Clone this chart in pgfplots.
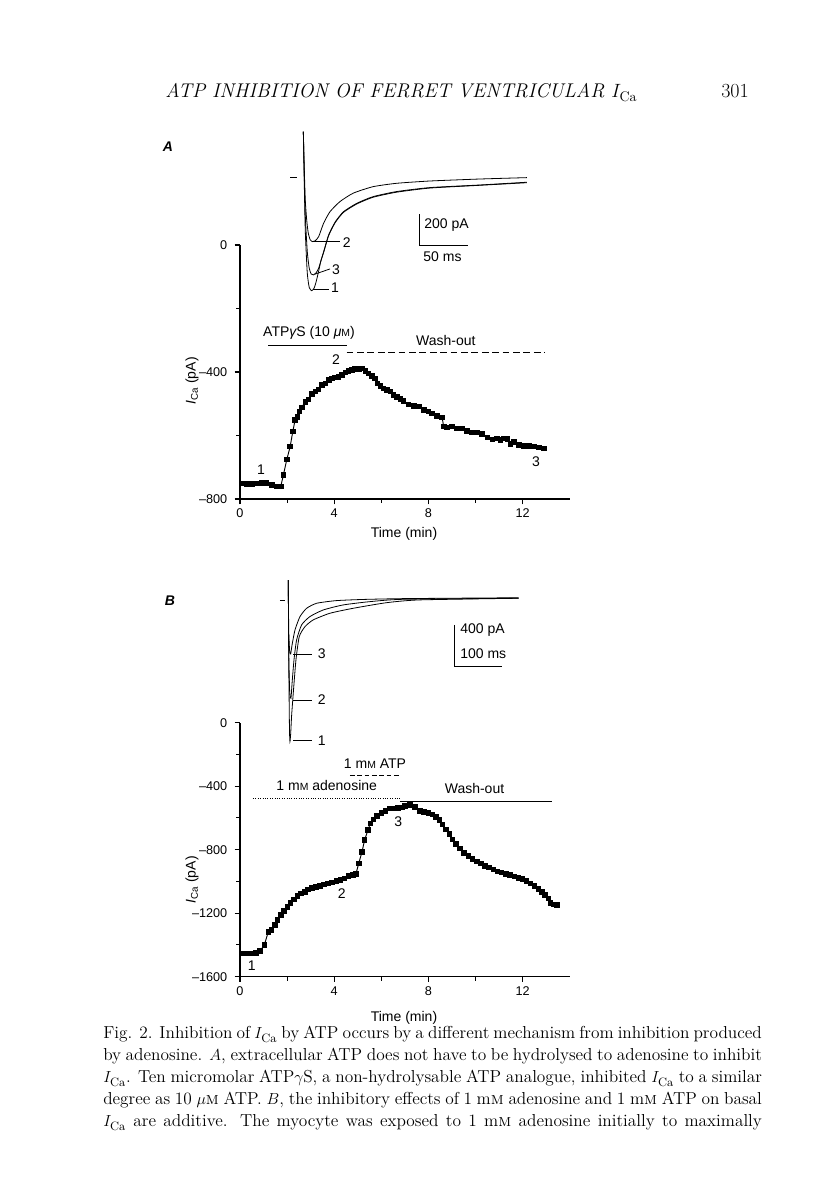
\documentclass[border=0pt]{standalone}
\usepackage{pgfplots}
\pgfplotsset{compat=1.18}
\usepackage{fontspec}
\newfontfamily\lsans{Liberation Sans}
\newcommand\lab{\lsans\fontsize{10.5}{12}\selectfont}
\newcommand\tickf{\lsans\fontsize{9.5}{11}\selectfont}
\newcommand\smM{{\fontsize{7.8}{9}\selectfont M}}
\pgfplotsset{
  mainax/.style={
    scale only axis, width=247.3pt, height=190.5pt,
    axis x line=bottom, axis y line=left,
    axis line style={-, line width=0.8pt},
    xmin=0, xmax=14,
    xtick={0,4,8,12}, xticklabels={0,4,8,12},
    minor xtick={2,6,10},
    tick align=outside,
    major tick length=4pt, minor tick length=3pt,
    tick style={black, line width=0.8pt},
    minor tick style={black, line width=0.8pt},
    ticklabel style={font=\tickf},
    yticklabel style={xshift=-2pt},
    clip=false,
  },
  dat/.style={black, line width=0.7pt, mark=square*, mark size=1.7pt, mark options={solid}},
  inset/.style={scale only axis, hide axis, clip=false, anchor=south west},
  tr/.style={black, line width=0.6pt, smooth, tension=0.35, no marks},
  ann/.style={black, line width=0.6pt, no marks},
}
\begin{document}
\begin{tikzpicture}
\begin{scope}[x=0.75pt,y=-0.75pt,shift={(0,900pt)}]
  \path[use as bounding box] (0,0) rectangle (816,1200);
\end{scope}

% ---------------- Panel A main axis
\begin{axis}[mainax, at={(180pt,525.75pt)}, anchor=south west,
  ymin=-800, ymax=0, ytick={-800,-400,0}, yticklabels={–800,–400,0},
  minor ytick={-600,-200}]
\addplot[dat] coordinates {
(0.07,-751) (0.28,-753) (0.50,-752) (0.71,-751) (0.92,-750) (1.13,-750)
(1.35,-756) (1.56,-761) (1.73,-761) (1.84,-725) (1.99,-675) (2.13,-635)
(2.24,-588) (2.34,-551) (2.44,-541) (2.52,-525) (2.62,-511) (2.77,-494)
(2.91,-486) (3.06,-470) (3.20,-462) (3.33,-455) (3.48,-441) (3.62,-436)
(3.77,-425) (3.90,-420) (4.04,-417) (4.18,-415) (4.33,-410) (4.47,-402)
(4.61,-396) (4.75,-394) (4.89,-391) (5.04,-391) (5.18,-389) (5.32,-396)
(5.46,-404) (5.60,-413) (5.74,-420) (5.84,-436) (5.96,-444) (6.10,-452)
(6.24,-457) (6.38,-462) (6.52,-473) (6.67,-478) (6.81,-485) (6.95,-492)
(7.16,-502) (7.38,-507) (7.59,-509) (7.80,-520) (8.01,-525) (8.16,-530)
(8.37,-539) (8.58,-543) (8.65,-572) (8.79,-574) (9.00,-572) (9.22,-578)
(9.43,-578) (9.64,-586) (9.86,-591) (10.07,-591) (10.28,-595) (10.50,-606)
(10.71,-612) (10.92,-609) (11.06,-614) (11.20,-609) (11.35,-611) (11.49,-627)
(11.63,-620) (11.84,-630) (12.06,-633) (12.27,-633) (12.48,-635) (12.70,-637)
(12.91,-641)};
\addplot[ann] coordinates {(1.19,-315) (4.54,-315)};
\addplot[ann, dash pattern=on 5pt off 2.8pt] coordinates {(4.53,-339) (12.95,-339)};
\end{axis}

% ---------------- Panel A inset (ms, pA)
\begin{axis}[inset, at={(212.8pt,674.7pt)}, width=191.1pt, height=138.1pt,
  xmin=-20, xmax=240, ymin=-800, ymax=400]
\addplot[tr] coordinates {(0,300) (1,50) (2,-150) (3.5,-280) (5,-360) (7,-405) (9.4,-417) (12,-412) (15.6,-385) (20.7,-297) (27.2,-222) (37.4,-156) (51,-101) (71.1,-59) (95,-37) (129,-22) (180,-9) (228,0)};
\addplot[tr] coordinates {(0,300) (1,0) (2,-250) (4,-480) (6,-590) (8,-628) (10.3,-634) (13,-620) (15.6,-591) (20.7,-483) (25.8,-374) (32.6,-288) (41,-222) (54.7,-167) (71.1,-124) (95,-91) (129,-65) (180,-48) (228,-30)};
\addplot[tr] coordinates {(0,300) (1,-50) (2,-350) (4,-620) (6,-715) (8.5,-737) (11,-720) (13,-680) (15.6,-610) (18,-540) (20.7,-488) (25.8,-378) (32.6,-292) (41,-226) (54.7,-171) (71.1,-128) (95,-95) (129,-68) (180,-50) (228,-33)};
\addplot[ann, line width=1pt] coordinates {(-13.6,0) (-6.8,0)};
\addplot[ann] coordinates {(10.2,-417) (37.4,-417)};
\addplot[ann] coordinates {(11.9,-629) (27.2,-595)};
\addplot[ann] coordinates {(10.2,-730) (26.5,-730)};
\addplot[ann] coordinates {(118.3,-239) (118.3,-439) (168.3,-439)};
\end{axis}

% ---------------- Panel B main axis
\begin{axis}[mainax, at={(180pt,167.5pt)}, anchor=south west,
  ymin=-1600, ymax=0, ytick={-1600,-1200,-800,-400,0},
  yticklabels={–1600,–1200,–800,–400,0},
  minor ytick={-1400,-1000,-600,-200}]
\addplot[dat] coordinates {
(0.07,-1454) (0.28,-1454) (0.50,-1453) (0.68,-1450) (0.85,-1438) (1.03,-1402)
(1.20,-1318) (1.34,-1307) (1.49,-1276) (1.60,-1244) (1.73,-1213) (1.87,-1186)
(2.01,-1160) (2.15,-1135) (2.29,-1114) (2.43,-1093) (2.58,-1076) (2.75,-1066)
(2.89,-1051) (3.06,-1041) (3.23,-1034) (3.40,-1028) (3.57,-1019) (3.74,-1013)
(3.91,-1007) (4.09,-998) (4.26,-992) (4.44,-982) (4.61,-967) (4.79,-961)
(4.92,-954) (5.04,-887) (5.18,-814) (5.29,-740) (5.43,-677) (5.53,-635)
(5.67,-610) (5.82,-589) (6.00,-568) (6.17,-556) (6.35,-541) (6.52,-540)
(6.71,-537) (6.88,-535) (7.01,-526) (7.22,-520) (7.43,-530) (7.64,-556)
(7.81,-562) (8.00,-568) (8.17,-577) (8.32,-593) (8.46,-614) (8.60,-641)
(8.75,-673) (8.89,-702) (9.03,-736) (9.17,-765) (9.34,-793) (9.51,-820)
(9.70,-841) (9.88,-860) (10.05,-873) (10.23,-887) (10.40,-902) (10.58,-912)
(10.76,-925) (10.94,-936) (11.11,-944) (11.29,-953) (11.46,-961) (11.65,-969)
(11.82,-978) (12.00,-986) (12.17,-997) (12.34,-1013) (12.50,-1030) (12.67,-1049)
(12.81,-1068) (12.95,-1087) (13.09,-1108) (13.19,-1135) (13.33,-1146) (13.45,-1150)};
\addplot[ann, dash pattern=on 3.5pt off 2pt] coordinates {(4.67,-331) (6.79,-331)};
\addplot[ann, line width=0.5pt, dash pattern=on 0.6pt off 1.2pt] coordinates {(0.55,-476) (6.79,-476)};
\addplot[ann] coordinates {(6.79,-493) (13.23,-493)};
\end{axis}

% ---------------- Panel B inset (ms, pA)
\begin{axis}[inset, at={(201.8pt,334.2pt)}, width=194.4pt, height=138.4pt,
  xmin=-40, xmax=500, ymin=-1500, ymax=300]
\addplot[tr] coordinates {(0,200) (1,-600) (2.5,-1250) (3.5,-1375) (5,-1300) (7,-1120) (10.4,-904) (16,-579) (22.9,-351) (34.8,-254) (52,-188) (87,-123) (135,-75) (205,-20) (274,7) (480,23)};
\addplot[tr] coordinates {(0,200) (1,-500) (3,-900) (5.6,-952) (8,-800) (11.9,-579) (17.4,-383) (27.8,-237) (45,-156) (73,-91) (114.6,-42) (170,-10) (240,13) (480,23)};
\addplot[tr] coordinates {(0,200) (1,-300) (3,-500) (5,-520) (8,-430) (14,-286) (24.4,-156) (38.2,-75) (59,-26) (100,0) (160,12) (250,20) (480,28)};
\addplot[ann, line width=1pt] coordinates {(-17.3,0) (-6.9,0)};
\addplot[ann] coordinates {(10.4,-520) (48.8,-520)};
\addplot[ann] coordinates {(10.4,-969) (48.8,-969)};
\addplot[ann] coordinates {(10.4,-1366) (48.8,-1366)};
\addplot[ann] coordinates {(345.8,-237) (345.8,-637) (445.8,-637)};
\end{axis}

% ---------------- Text in image coordinates
\begin{scope}[x=0.75pt,y=-0.75pt,shift={(0,900pt)}, every node/.style={inner sep=0pt}]
  % running head
  \node[anchor=base west] at (165,98) {\fontsize{14.9}{16}\selectfont\itshape ATP INHIBITION OF FERRET VENTRICULAR $I_{\mathrm{Ca}}$};
  \node[anchor=base west] at (721,98) {\fontsize{15}{16}\selectfont 301};
  % panel letters
  \node at (168,147) {\lsans\itshape\bfseries\fontsize{10.5}{12}\selectfont A};
  \node at (170,601) {\lsans\itshape\bfseries\fontsize{10.5}{12}\selectfont B};
  % panel A
  \node at (309,333) {\lab ATP{\itshape γ}S (10 {\itshape μ}\smM)};
  \node at (445.8,340.5) {\lab Wash-out};
  \node at (336,360) {\lab 2};
  \node at (261,469.3) {\lab 1};
  \node at (536,461.7) {\lab 3};
  \node at (404,534) {\lab Time (min)};
  \node[rotate=90] at (192,381) {\lab \textit{I}\textsubscript{Ca} (pA)};
  \node at (346.7,242.3) {\lab 2};
  \node at (336,270) {\lab 3};
  \node at (335,287.3) {\lab 1};
  \node[anchor=west] at (424,225) {\lab 200 pA};
  \node at (442.5,256.7) {\lab 50 ms};
  % panel B
  \node at (375,764) {\lab 1 m\smM\ ATP};
  \node at (326.7,785) {\lab 1 m\smM\ adenosine};
  \node at (474.5,788.7) {\lab Wash-out};
  \node at (251.7,966) {\lab 1};
  \node at (341.7,894) {\lab 2};
  \node at (398.3,821.7) {\lab 3};
  \node at (404,1018) {\lab Time (min)};
  \node[rotate=90] at (192,880) {\lab \textit{I}\textsubscript{Ca} (pA)};
  \node at (321.7,654) {\lab 3};
  \node at (321.7,700) {\lab 2};
  \node at (321.7,740.7) {\lab 1};
  \node[anchor=west] at (460,630) {\lab 400 pA};
  \node[anchor=west] at (460,654) {\lab 100 ms};
  % caption
  \begin{scope}[every node/.style={anchor=base west, inner sep=0pt, font=\fontsize{13}{16}\selectfont}]
  \node at (103,1039) {\makebox[494pt][s]{Fig. 2. Inhibition of $I_{\mathrm{Ca}}$ by ATP occurs by a different mechanism from inhibition produced}};
  \node at (103,1061) {\makebox[494pt][s]{by adenosine. $A$, extracellular ATP does not have to be hydrolysed to adenosine to inhibit}};
  \node at (103,1083) {\makebox[494pt][s]{$I_{\mathrm{Ca}}$. Ten micromolar ATP$\gamma$S, a non-hydrolysable ATP analogue, inhibited $I_{\mathrm{Ca}}$ to a similar}};
  \node at (103,1105) {\makebox[494pt][s]{degree as 10 $\mu$\textsc{m} ATP. $B$, the inhibitory effects of 1 m\textsc{m} adenosine and 1 m\textsc{m} ATP on basal}};
  \node at (103,1127) {\makebox[494pt][s]{$I_{\mathrm{Ca}}$ are additive. The myocyte was exposed to 1 m\textsc{m} adenosine initially to maximally}};
  \end{scope}
\end{scope}
\end{tikzpicture}
\end{document}
